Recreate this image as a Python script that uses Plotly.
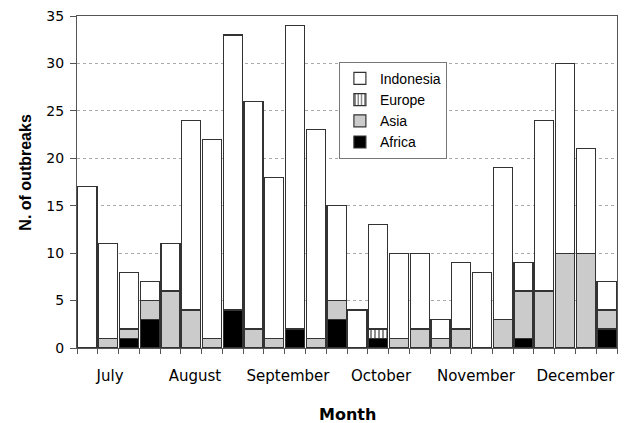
import plotly.graph_objects as go

weeks = list(range(1, 27))
africa = [0, 0, 1, 3, 0, 0, 0, 4, 0, 0, 2, 0, 3, 0, 1, 0, 0, 0, 0, 0, 0, 1, 0, 0, 0, 2]
asia = [0, 1, 1, 2, 6, 4, 1, 0, 2, 1, 0, 1, 2, 0, 0, 1, 2, 1, 2, 0, 3, 5, 6, 10, 10, 2]
europe = [0, 0, 0, 0, 0, 0, 0, 0, 0, 0, 0, 0, 0, 0, 1, 0, 0, 0, 0, 0, 0, 0, 0, 0, 0, 0]
indonesia = [17, 10, 6, 2, 5, 20, 21, 29, 24, 17, 32, 22, 10, 4, 11, 9, 8, 2, 7, 8, 16, 3, 18, 20, 11, 3]

month_labels = ["July", "August", "September", "October", "November", "December"]
month_label_pos = [2.09, 6.18, 10.66, 15.14, 19.71, 24.5]
y_ticks = [0, 5, 10, 15, 20, 25, 30, 35]

edge = dict(color="#333333", width=1.2)

fig = go.Figure()
fig.add_trace(go.Bar(x=weeks, y=africa, name="Africa", legendgroup="a",
                     marker=dict(color="black", line=edge)))
fig.add_trace(go.Bar(x=weeks, y=asia, name="Asia", legendgroup="b",
                     marker=dict(color="#cbcbcb", line=edge)))
fig.add_trace(go.Bar(x=weeks, y=europe, name="Europe", legendgroup="c",
                     marker=dict(color="white", line=edge,
                                 pattern=dict(shape="|", fgcolor="black", bgcolor="white",
                                              size=4, solidity=0.45))))
fig.add_trace(go.Bar(x=weeks, y=indonesia, name="Indonesia", legendgroup="d",
                     marker=dict(color="white", line=edge)))

fig.update_layout(
    width=627, height=423,
    margin=dict(l=77, r=10, t=16, b=75, autoexpand=False),
    barmode="stack", bargap=0.08,
    paper_bgcolor="white", plot_bgcolor="white",
    font=dict(family="Liberation Sans", color="black", size=14),
    showlegend=True,
    legend=dict(x=0.485, y=0.862, xanchor="left", yanchor="top",
                traceorder="reversed", bordercolor="#777", borderwidth=1,
                bgcolor="white", font=dict(size=14, family="Liberation Sans"),
                tracegroupgap=2, itemwidth=30),
    xaxis=dict(range=[0.5, 26.5], tickvals=month_label_pos, ticktext=month_labels,
               ticks="", showgrid=False, zeroline=False, automargin=False,
               showline=True, linecolor="#555", linewidth=1, mirror=True,
               ticklabelstandoff=14,
               tickfont=dict(size=15, family="DejaVu Sans"),
               minor=dict(tick0=0.5, dtick=1, ticks="outside", ticklen=5,
                          tickcolor="#555", showgrid=False)),
    yaxis=dict(range=[0, 35], tickvals=y_ticks, ticks="outside", ticklen=6,
               tickcolor="#555", showline=True, linecolor="#555", linewidth=1,
               mirror=True, showgrid=True, gridcolor="#aaaaaa", griddash="dot",
               gridwidth=1, zeroline=False, automargin=False,
               ticklabelstandoff=3,
               tickfont=dict(size=14, family="DejaVu Sans")),
    annotations=[
        dict(text="<b>N. of outbreaks</b>", textangle=-90, xref="paper", yref="paper",
             x=-0.097, y=0.53, xanchor="center", yanchor="middle", showarrow=False,
             font=dict(size=16, family="Liberation Sans")),
        dict(text="<b>Month</b>", xref="paper", yref="paper", x=0.5, y=-0.2,
             xanchor="center", yanchor="middle", showarrow=False,
             font=dict(size=16, family="DejaVu Sans")),
    ],
)

fig.write_html(
    "out.html",
    config={"displayModeBar": False},
    post_script="document.body.style.margin='0';document.body.style.overflow='hidden';",
)
